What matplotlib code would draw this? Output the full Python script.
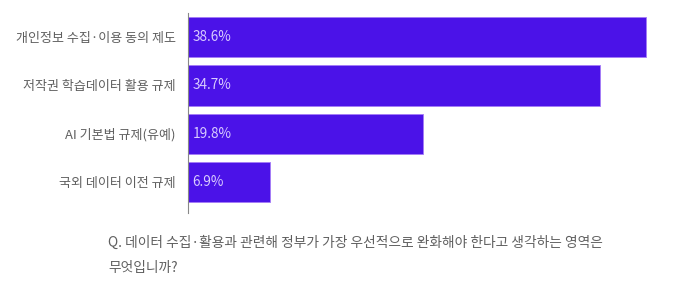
import matplotlib
matplotlib.use("Agg")
import matplotlib.pyplot as plt

plt.rcParams['font.family'] = ['Noto Sans CJK KR', 'DejaVu Sans']

categories = ["개인정보 수집·이용 동의 제도", "저작권 학습데이터 활용 규제", "AI 기본법 규제(유예)", "국외 데이터 이전 규제"]
values = [38.6, 34.7, 19.8, 6.9]
value_labels = ["38.6%", "34.7%", "19.8%", "6.9%"]
question_lines = ["Q. 데이터 수집·활용과 관련해 정부가 가장 우선적으로 완화해야 한다고 생각하는 영역은",
                  "무엇입니까?"]

W, H = 700, 293
fig = plt.figure(figsize=(W/100, H/100), dpi=100)
left, right, top, bottom = 188, 698, 13, 213
ax = fig.add_axes([left/W, 1-bottom/H, (right-left)/W, (bottom-top)/H])

bar_color = "#4B12E8"
ypos = list(range(len(categories)))
ax.barh(ypos, values, height=0.83, color=bar_color, edgecolor="#A57BF7", linewidth=0.6)
ax.set_xlim(0, (right-left)/11.87)
ax.set_ylim(3.64, -0.5)

for y, lab in zip(ypos, value_labels):
    ax.text(0.4, y, lab, va='center', ha='left', color="#D9CCFF", fontsize=9.8)

ax.set_yticks(ypos)
ax.set_yticklabels(categories, fontsize=9.4, color="#5f5f5f")
ax.tick_params(axis='y', length=0, pad=9)
ax.set_xticks([])
for s in ['top', 'right', 'bottom']:
    ax.spines[s].set_visible(False)
ax.spines['left'].set_color("#888888")
ax.spines['left'].set_linewidth(0.8)

for i, line in enumerate(question_lines):
    fig.text(108/W, 1-(243+25*i)/H, line, fontsize=9.9, color="#5f5f5f", va='center', ha='left')

fig.savefig("out.png", dpi=100, facecolor="white")
